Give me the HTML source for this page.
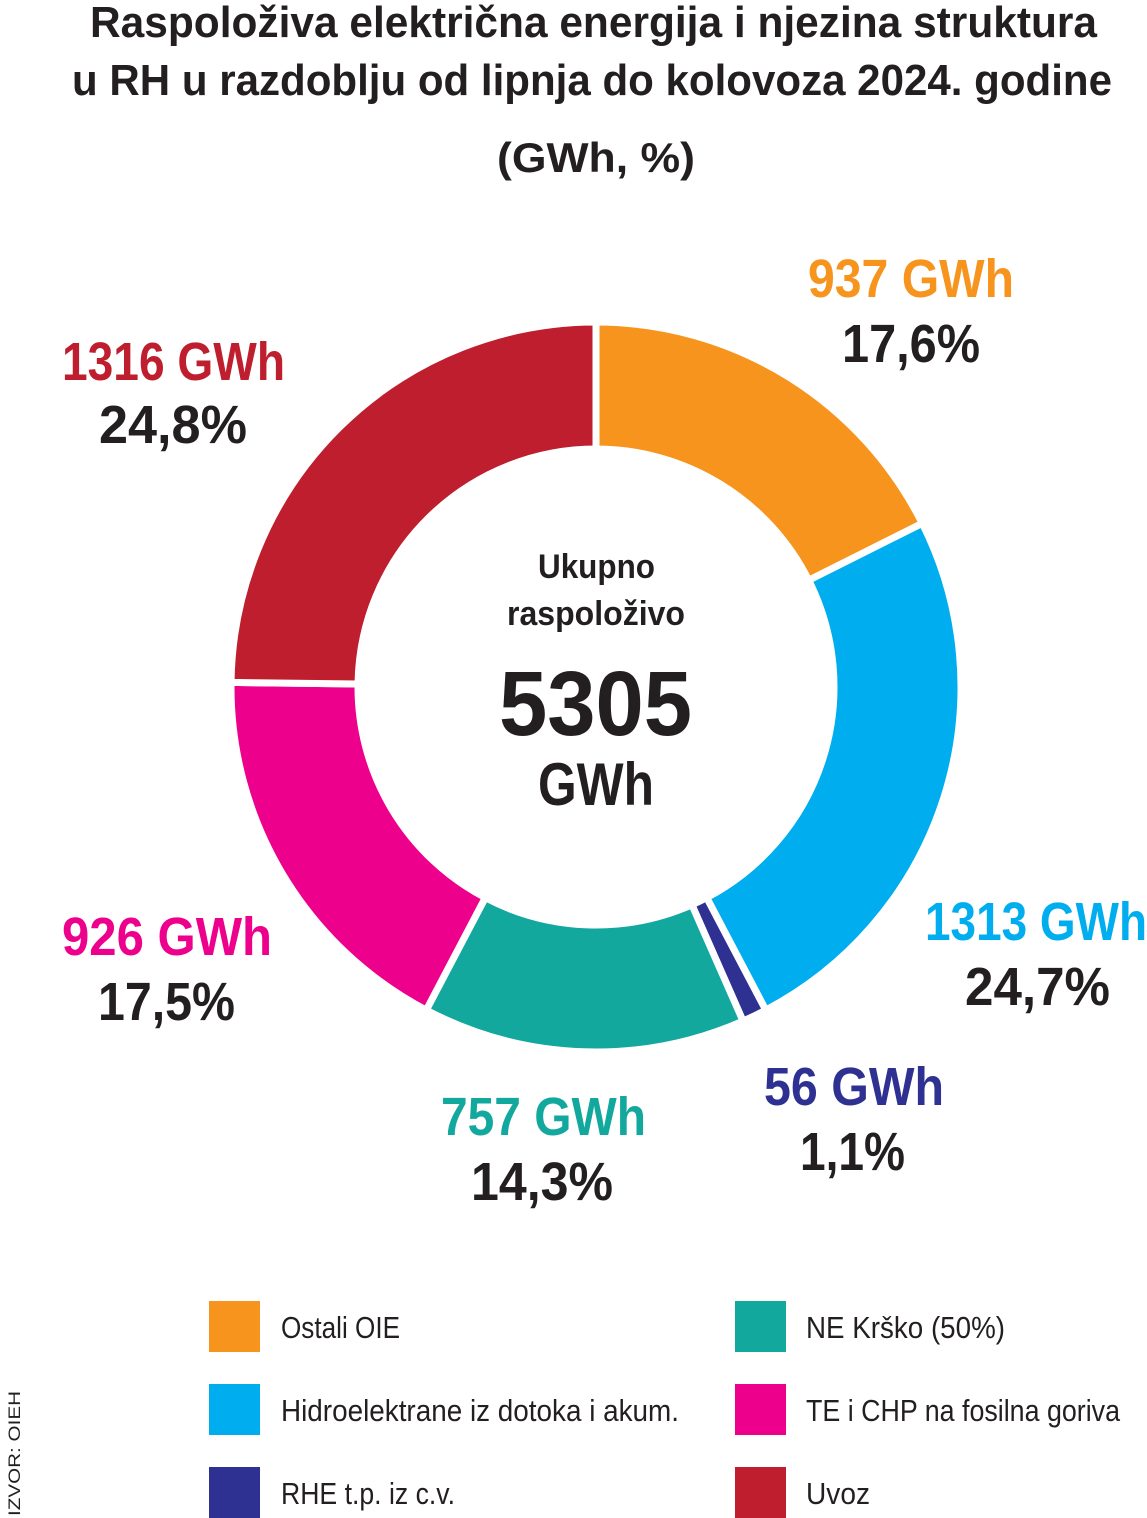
<!DOCTYPE html>
<html><head><meta charset="utf-8"><style>
body{margin:0;background:#fff;}
svg{display:block;}
.t{font-family:"Liberation Sans Narrow","Liberation Sans",sans-serif;font-weight:bold;fill:#231F20;}
.l{font-family:"Liberation Sans Narrow","Liberation Sans",sans-serif;fill:#231F20;}
</style></head><body>
<svg id="s" width="1147" height="1518" viewBox="0 0 1147 1518" xmlns="http://www.w3.org/2000/svg">
<g lengthAdjust="spacingAndGlyphs">
<text class="t" x="90" y="37" font-size="44" textLength="1007" lengthAdjust="spacingAndGlyphs">Raspoloživa električna energija i njezina struktura</text>
<text class="t" x="72" y="95" font-size="44" textLength="1040" lengthAdjust="spacingAndGlyphs">u RH u razdoblju od lipnja do kolovoza 2024. godine</text>
<text class="t" x="497" y="172" font-size="42" textLength="198" lengthAdjust="spacingAndGlyphs">(GWh, %)</text>
</g>
<g id="arcs"></g>
<text class="t" x="538" y="578" font-size="34" textLength="117" lengthAdjust="spacingAndGlyphs">Ukupno</text>
<text class="t" x="507" y="625" font-size="34" textLength="178" lengthAdjust="spacingAndGlyphs">raspoloživo</text>
<text class="t" x="499" y="735" font-size="92" textLength="193" lengthAdjust="spacingAndGlyphs">5305</text>
<text class="t" x="538" y="805" font-size="60" textLength="116" lengthAdjust="spacingAndGlyphs">GWh</text>
<g font-size="54">
<text class="t" x="808" y="297" textLength="206" lengthAdjust="spacingAndGlyphs" style="fill:#F7941D">937 GWh</text>
<text class="t" x="842" y="362" textLength="138" lengthAdjust="spacingAndGlyphs">17,6%</text>
<text class="t" x="62" y="380" textLength="223" lengthAdjust="spacingAndGlyphs" style="fill:#BE1E2D">1316 GWh</text>
<text class="t" x="99" y="443" textLength="148" lengthAdjust="spacingAndGlyphs">24,8%</text>
<text class="t" x="925" y="940" textLength="222" lengthAdjust="spacingAndGlyphs" style="fill:#00AEEF">1313 GWh</text>
<text class="t" x="965" y="1005" textLength="145" lengthAdjust="spacingAndGlyphs">24,7%</text>
<text class="t" x="764" y="1105" textLength="180" lengthAdjust="spacingAndGlyphs" style="fill:#2E3192">56 GWh</text>
<text class="t" x="800" y="1170" textLength="105" lengthAdjust="spacingAndGlyphs">1,1%</text>
<text class="t" x="441" y="1135" textLength="205" lengthAdjust="spacingAndGlyphs" style="fill:#13A89E">757 GWh</text>
<text class="t" x="471" y="1200" textLength="142" lengthAdjust="spacingAndGlyphs">14,3%</text>
<text class="t" x="62" y="955" textLength="210" lengthAdjust="spacingAndGlyphs" style="fill:#EC008C">926 GWh</text>
<text class="t" x="98" y="1020" textLength="137" lengthAdjust="spacingAndGlyphs">17,5%</text>
</g>
<rect x="209" y="1301" width="51" height="51" fill="#F7941D"/>
<rect x="209" y="1384" width="51" height="51" fill="#00AEEF"/>
<rect x="209" y="1467" width="51" height="51" fill="#2E3192"/>
<rect x="735" y="1301" width="51" height="51" fill="#13A89E"/>
<rect x="735" y="1384" width="51" height="51" fill="#EC008C"/>
<rect x="735" y="1467" width="51" height="51" fill="#BE1E2D"/>
<g font-size="31">
<text class="l" x="281" y="1338" textLength="119" lengthAdjust="spacingAndGlyphs">Ostali OIE</text>
<text class="l" x="281" y="1421" textLength="398" lengthAdjust="spacingAndGlyphs">Hidroelektrane iz dotoka i akum.</text>
<text class="l" x="281" y="1504" textLength="174" lengthAdjust="spacingAndGlyphs">RHE t.p. iz c.v.</text>
<text class="l" x="806" y="1338" textLength="199" lengthAdjust="spacingAndGlyphs">NE Krško (50%)</text>
<text class="l" x="806" y="1421" textLength="314" lengthAdjust="spacingAndGlyphs">TE i CHP na fosilna goriva</text>
<text class="l" x="806" y="1504" textLength="64" lengthAdjust="spacingAndGlyphs">Uvoz</text>
</g>
<text class="l" font-size="17" transform="translate(20,1516) rotate(-90)" textLength="125" lengthAdjust="spacingAndGlyphs">IZVOR: OIEH</text>
</svg>
<script>
var cx=596,cy=687,R=365,r=238;
var d=[[17.6,"#F7941D"],[24.7,"#00AEEF"],[1.1,"#2E3192"],[14.3,"#13A89E"],[17.5,"#EC008C"],[24.8,"#BE1E2D"]];
var tot=100,a=0,g=document.getElementById("arcs"),h="";
function p(rad,ang){return [cx+rad*Math.sin(ang),cy-rad*Math.cos(ang)];}
d.forEach(function(s){var a0=a/tot*2*Math.PI;a+=s[0];var a1=a/tot*2*Math.PI;var lg=(a1-a0)>Math.PI?1:0;
var A=p(R,a0),B=p(R,a1),C=p(r,a1),D=p(r,a0);
h+='<path d="M'+A+' A'+R+' '+R+' 0 '+lg+' 1 '+B+' L'+C+' A'+r+' '+r+' 0 '+lg+' 0 '+D+' Z" fill="'+s[1]+'" stroke="#fff" stroke-width="7" stroke-linejoin="miter"/>';});
g.innerHTML=h;
</script>
</body></html>
